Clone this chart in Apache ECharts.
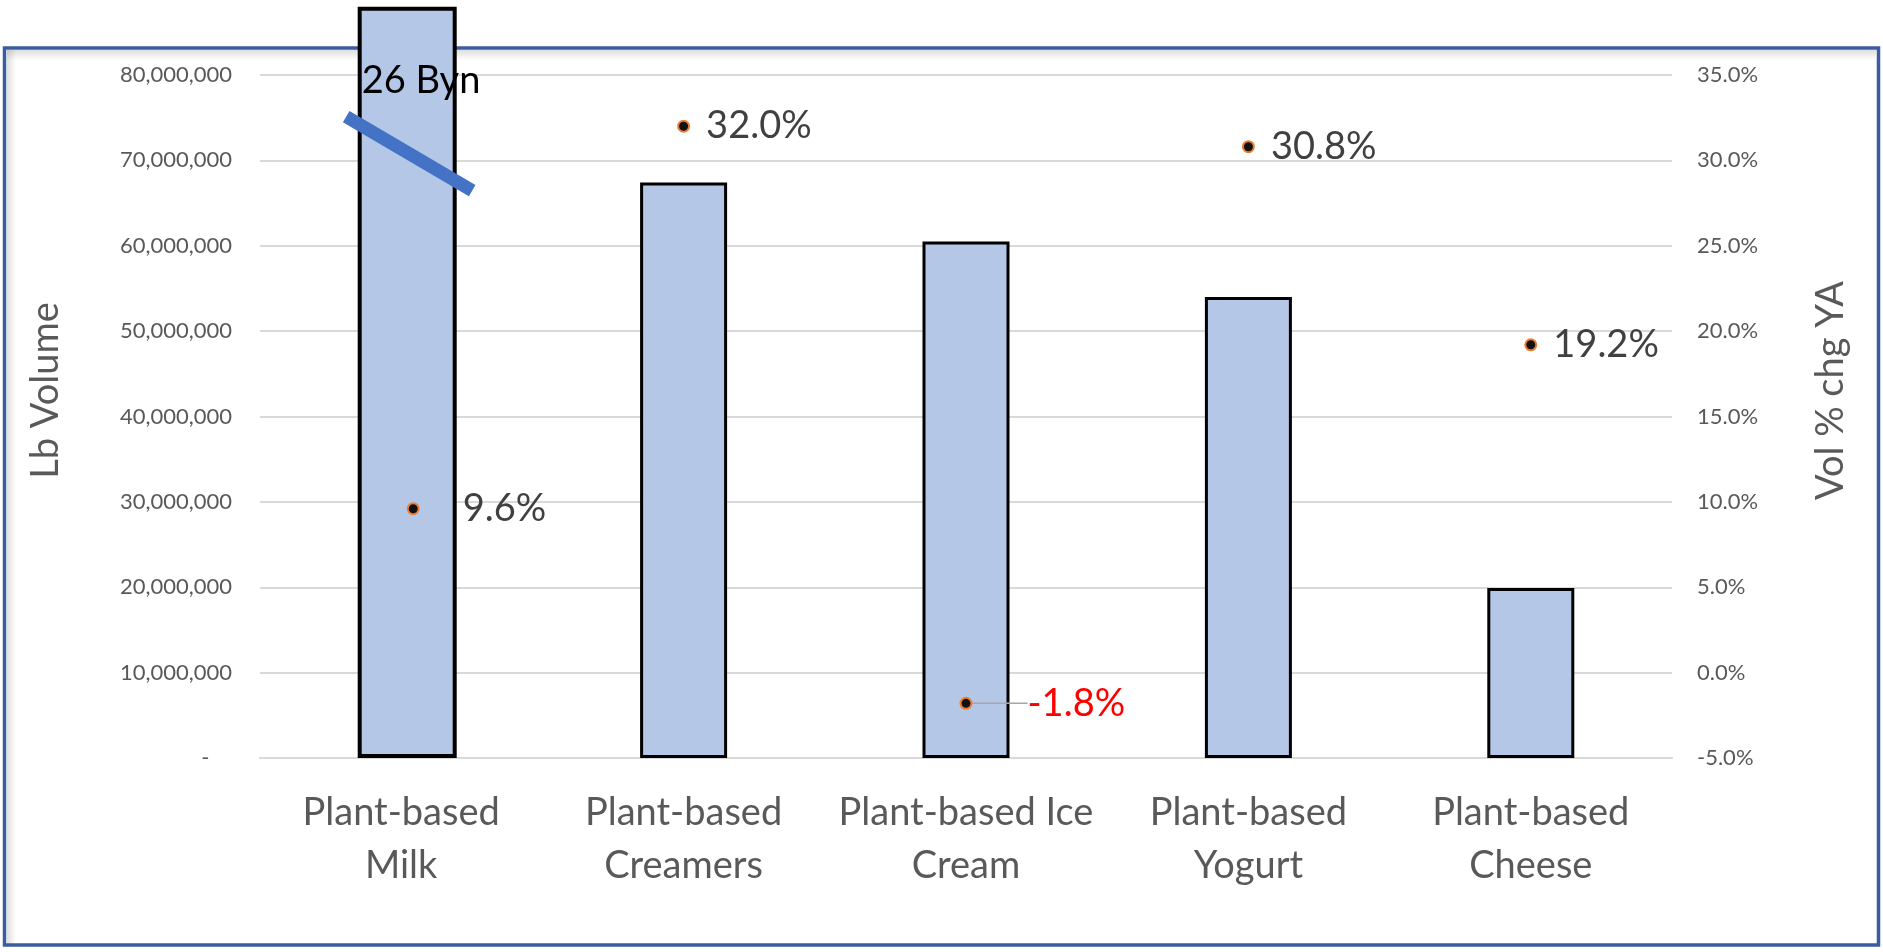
<!DOCTYPE html>
<html>
<head>
<meta charset="utf-8">
<style>
  html, body { margin: 0; padding: 0; background: #ffffff; }
  #chart { width: 1883px; height: 952px; }
</style>
<script src="https://cdn.jsdelivr.net/npm/echarts@6/dist/echarts.min.js"></script>
</head>
<body>
<div id="chart"></div>
<script>
// ---- data ----
const categories = ['Plant-based\nMilk', 'Plant-based\nCreamers', 'Plant-based Ice\nCream', 'Plant-based\nYogurt', 'Plant-based\nCheese'];
const lbVolume = [88000000, 67400000, 60500000, 54000000, 19900000];
const volPctChg = [9.6, 32.0, -1.8, 30.8, 19.2];
const milkBreakLabel = '26 Byn';
const leftTitle = 'Lb Volume';
const rightTitle = 'Vol % chg YA';

const FONT = 'Lato';
const chart = echarts.init(document.getElementById('chart'), null, { renderer: 'canvas' });

// the broken (truncated) milk bar is drawn as its own, slightly wider series
const milkBarData = lbVolume.map((v, i) => i === 0 ? {
  value: v,
  label: {
    show: true, position: [4, 55], formatter: milkBreakLabel,
    color: '#000000', fontFamily: FONT, fontSize: 38
  }
} : null);
const otherBarData = lbVolume.map((v, i) => i === 0 ? null : v);

const lineData = volPctChg.map((v, i) => {
  const d = { value: v };
  if (i === 0) {
    d.symbolOffset = [12, 0];
  }
  if (v < 0) {
    d.label = { color: '#FF0000' };
    d.labelLine = { show: true, lineStyle: { color: '#A6A6A6', width: 1.5 } };
  }
  return d;
});

const option = {
  animation: false,
  backgroundColor: '#ffffff',
  grid: { left: 260, right: 211, top: 75, bottom: 194, containLabel: false },
  xAxis: {
    type: 'category',
    data: categories,
    axisLine: { show: true, lineStyle: { color: '#D9D9D9', width: 2 } },
    axisTick: { show: false },
    axisLabel: {
      color: '#595959', fontFamily: FONT, fontSize: 38, lineHeight: 53,
      margin: 28, interval: 0
    }
  },
  yAxis: [
    {
      type: 'value', min: 0, max: 80000000, interval: 10000000,
      name: leftTitle, nameLocation: 'middle', nameGap: 195, nameRotate: 90,
      nameTextStyle: { color: '#595959', fontFamily: FONT, fontSize: 38, padding: [0, 0, 0, 52] },
      axisLine: { show: false }, axisTick: { show: false },
      splitLine: { lineStyle: { color: '#D9D9D9', width: 2 } },
      axisLabel: {
        color: '#595959', fontFamily: FONT, fontSize: 22, margin: 28,
        formatter: v => v === 0 ? '-    ' : v.toLocaleString('en-US')
      }
    },
    {
      type: 'value', min: -5, max: 35, interval: 5, position: 'right',
      name: rightTitle, nameLocation: 'middle', nameGap: 140, nameRotate: 90,
      nameTextStyle: { color: '#595959', fontFamily: FONT, fontSize: 38, padding: [0, 0, 0, 52] },
      axisLine: { show: false }, axisTick: { show: false },
      splitLine: { show: false },
      axisLabel: {
        color: '#595959', fontFamily: FONT, fontSize: 22, margin: 25,
        formatter: v => v.toFixed(1) + '%'
      }
    }
  ],
  series: [
    {
      type: 'bar',
      data: milkBarData,
      yAxisIndex: 0,
      barWidth: 99,
      barGap: '-100%',
      clip: false,
      z: 3,
      itemStyle: { color: '#B4C7E7', borderColor: '#000000', borderWidth: 4 }
    },
    {
      type: 'bar',
      data: otherBarData,
      yAxisIndex: 0,
      barWidth: 87,
      barGap: '-100%',
      z: 3,
      itemStyle: { color: '#B4C7E7', borderColor: '#000000', borderWidth: 3 }
    },
    {
      type: 'line',
      data: lineData,
      yAxisIndex: 1,
      z: 5,
      lineStyle: { width: 0, opacity: 0 },
      symbol: 'circle',
      symbolSize: 11,
      itemStyle: { color: '#111111', borderColor: '#ED7D31', borderWidth: 2 },
      label: {
        show: true, position: 'right', distance: 16,
        color: '#404040', fontFamily: FONT, fontSize: 38,
        formatter: p => p.value.toFixed(1) + '%'
      },
      labelLayout: p => p.dataIndex === 0 ? { dx: 27 } : (p.dataIndex === 2 ? { dx: 39 } : {})
    }
  ]
};

chart.setOption(option);

// decorations: frame and break slash, placed from the axes
const c = chart.convertToPixel({ xAxisIndex: 0, yAxisIndex: 0 }, [0, 70800000]);
const W = 1883, H = 952;
chart.setOption({
  graphic: [
    {
      type: 'rect', z: 0, silent: true,
      shape: { x: 7, y: 50, width: W - 14, height: 10 },
      style: { fill: new echarts.graphic.LinearGradient(0, 0, 0, 1, [
        { offset: 0, color: 'rgba(0,0,0,0.13)' }, { offset: 1, color: 'rgba(0,0,0,0)' }]) }
    },
    {
      type: 'rect', z: 0, silent: true,
      shape: { x: 7, y: 50, width: 9, height: H - 57 },
      style: { fill: new echarts.graphic.LinearGradient(0, 0, 1, 0, [
        { offset: 0, color: 'rgba(0,0,0,0.13)' }, { offset: 1, color: 'rgba(0,0,0,0)' }]) }
    },
    {
      type: 'rect', z: 1, silent: true,
      shape: { x: 4.5, y: 48, width: W - 9, height: 897 },
      style: { fill: 'none', stroke: '#3B5C9E', lineWidth: 3.5 }
    },
    {
      type: 'line', z: 100, silent: true,
      shape: { x1: c[0] - 55, y1: c[1] - 37, x2: c[0] + 71, y2: c[1] + 37 },
      style: { stroke: '#4472C4', lineWidth: 13 }
    }
  ]
});
</script>
</body>
</html>
